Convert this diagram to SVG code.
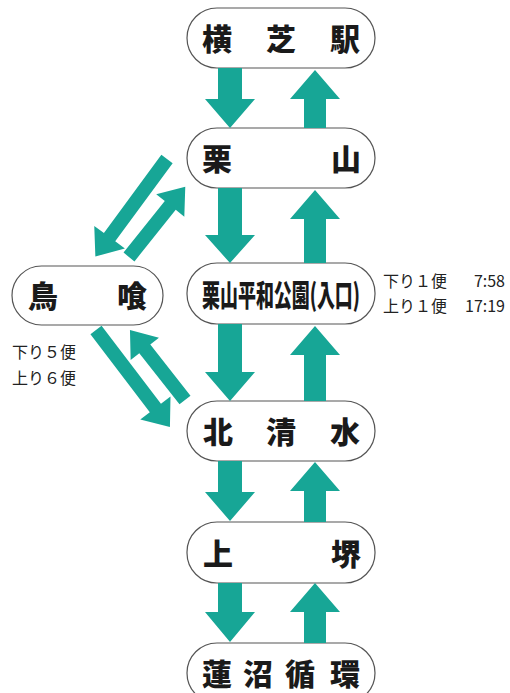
<svg xmlns="http://www.w3.org/2000/svg" width="510" height="693" viewBox="0 0 510 693">
<defs>
<style>
.node{fill:#fff;stroke:#555;stroke-width:1.2}
.lbl{font-family:"Noto Sans CJK JP","Noto Sans CJK SC",sans-serif;font-weight:900;font-size:30px;fill:#1a1a1a;text-anchor:middle}
.note{font-family:"Noto Sans CJK JP","Noto Sans CJK SC",sans-serif;font-size:16px;fill:#222}
.arr{fill:#17a696}
</style>
</defs>
<rect width="510" height="693" fill="#fff"/>
<g id="nodes">
<g id="n-yokoshiba">
<rect class="node" x="187" y="8" width="188" height="60" rx="30"/>
<text class="lbl" y="50"><tspan x="217">横</tspan><tspan x="281">芝</tspan><tspan x="345">駅</tspan></text>
</g>
<g id="n-kuriyama">
<rect class="node" x="187" y="128" width="188" height="60" rx="30"/>
<text class="lbl" y="170"><tspan x="217">栗</tspan><tspan x="346">山</tspan></text>
</g>
<g id="n-heiwa">
<rect class="node" x="187" y="263" width="188" height="61" rx="30"/>
<text class="lbl" transform="translate(281,306) scale(0.65,1)" x="0" y="0" font-size="28" textLength="243" lengthAdjust="spacingAndGlyphs">栗山平和公園(入口)</text>
</g>
<g id="n-kitashimizu">
<rect class="node" x="187" y="401" width="188" height="60" rx="30"/>
<text class="lbl" y="443"><tspan x="218">北</tspan><tspan x="281">清</tspan><tspan x="345">水</tspan></text>
</g>
<g id="n-kamisakai">
<rect class="node" x="187" y="522" width="188" height="61" rx="30"/>
<text class="lbl" y="565"><tspan x="218">上</tspan><tspan x="346">堺</tspan></text>
</g>
<g id="n-hasunuma">
<rect class="node" x="187" y="643" width="188" height="60" rx="30"/>
<text class="lbl" y="685"><tspan x="217">蓮</tspan><tspan x="258">沼</tspan><tspan x="300">循</tspan><tspan x="345">環</tspan></text>
</g>
<g id="n-toraku">
<rect class="node" x="12" y="266" width="151" height="59" rx="29.5"/>
<text class="lbl" y="307"><tspan x="43">鳥</tspan><tspan x="132">喰</tspan></text>
</g>
</g>
<g id="notes">
<text class="note" y="287"><tspan x="383">下り１便</tspan><tspan x="505" text-anchor="end">7:58</tspan></text>
<text class="note" y="312"><tspan x="383">上り１便</tspan><tspan x="505" text-anchor="end">17:19</tspan></text>
<text class="note" x="12" y="358" font-size="17.5">下り５便</text>
<text class="note" x="12" y="384" font-size="17.5">上り６便</text>
</g>
<g id="connectors" class="arr">
<polygon points="218,68 242,68 242,99 255,99 230,128 205,99 218,99"/>
<polygon points="315,70 340,99 326,99 326,128 304,128 304,99 290,99"/>
<polygon points="218,188 242,188 242,235 255,235 230,263 205,235 218,235"/>
<polygon points="315,190 340,219 326,219 326,263 304,263 304,219 290,219"/>
<polygon points="218,324 242,324 242,372 255,372 230,401 205,372 218,372"/>
<polygon points="315,326 340,355 326,355 326,401 304,401 304,355 290,355"/>
<polygon points="218,461 242,461 242,492 255,492 230,521 205,492 218,492"/>
<polygon points="315,462 340,491 326,491 326,522 304,522 304,491 290,491"/>
<polygon points="218,583 242,583 242,612 255,612 230,642 205,612 218,612"/>
<polygon points="315,583 340,612 326,612 326,643 304,643 304,612 290,612"/>
<path transform="translate(167,159) rotate(126.3)" d="M0,-7 H97 V-19 L121,0 L97,19 V7 H0 Z"/>
<path transform="translate(129,257) rotate(-51.3)" d="M0,-7 H66 V-18 L90,0 L66,18 V7 H0 Z"/>
<path transform="translate(96,330) rotate(52.7)" d="M0,-7 H98 V-19 L122,0 L98,19 V7 H0 Z"/>
<path transform="translate(185,400) rotate(-128.2)" d="M0,-7 H65 V-18 L89,0 L65,18 V7 H0 Z"/>
</g>
</svg>
